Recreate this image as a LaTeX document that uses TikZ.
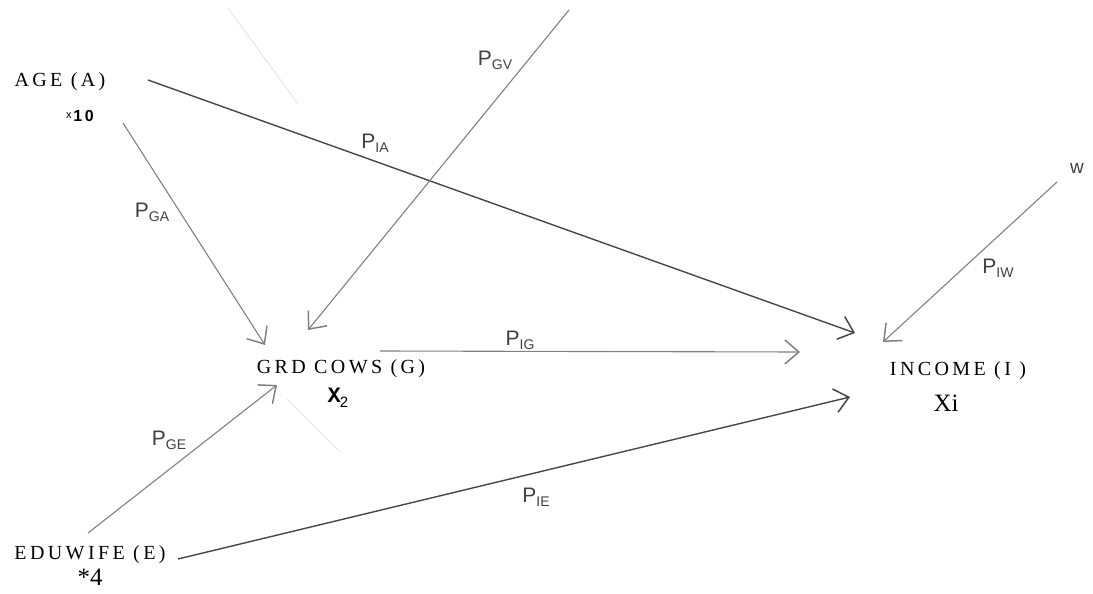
\documentclass[tikz,border=0pt]{standalone}
\usepackage{fontspec}
\setmainfont{Liberation Serif}
\newfontfamily\capsfont[LetterSpace=17]{Liberation Serif}
\newfontfamily\pfont{Liberation Sans}
\newfontfamily\xfont{Liberation Mono}
\usetikzlibrary{arrows.meta}

% path coefficient P with a lowered subscript
\newcommand{\pco}[1]{{\pfont\fontsize{21}{24}\selectfont P\raisebox{-0.35ex}{\fontsize{14}{14}\selectfont #1}}}

\begin{document}
\begin{tikzpicture}[x=1pt, y=-1pt,
    vname/.style={font=\capsfont\fontsize{20}{22}\selectfont, inner sep=0pt},
    vnum/.style={font=\fontsize{25}{28}\selectfont, inner sep=0pt},
    coef/.style={text=black!75, inner sep=0pt},
    link/.style={draw=black!50, line width=1.1pt,
      -{Straight Barb[length=14pt,width=24pt,line width=1.5pt]}},
    darklink/.style={link, draw=black!72, line width=1.4pt},
    ghost/.style={draw=black!10, line width=1pt}]
  \useasboundingbox (0,0) rectangle (1093,594);

  % faint traces on the sheet
  \draw[ghost] (228,8) -- (298,104);
  \draw[ghost] (287,399) -- (340,452);

  % Variables
  \node[vname] (age) at (60,82) {AGE (A)};
  \node[inner sep=0pt] (ageX) at (80,116) {\pfont\raisebox{0.6ex}{\fontsize{11}{12}\selectfont x}\,\fontsize{16}{18}\selectfont\bfseries 1\,0};
  \node[vname] (grd) at (341,369) {GRD COWS (G)};
  \node[inner sep=0pt] (grdX) at (338,398) {\xfont\bfseries\fontsize{22}{24}\selectfont X\hspace{-1pt}\raisebox{-0.45ex}{\pfont\mdseries\fontsize{15}{16}\selectfont 2}};
  \node[vname] (inc) at (958,371) {INCOME (I )};
  \node[vnum] (incX) at (946,403) {Xi};
  \node[vname] (edu) at (90,555) {EDUWIFE (E)};
  \node[vnum] (eduX) at (90,577) {*4};
  \node[inner sep=0pt, text=black!75] (w) at (1077,168) {\pfont\fontsize{19}{20}\selectfont w};

  % End points of the paths
  \coordinate (ageS) at (148,80);
  \coordinate (ageXS) at (123,123);
  \coordinate (vS) at (569,10);
  \coordinate (wS) at (1057,182);
  \coordinate (grdS) at (380,351);
  \coordinate (eduS) at (88,533);
  \coordinate (eduXS) at (178,559);
  \coordinate (grdA) at (265,345);
  \coordinate (grdV) at (308,330);
  \coordinate (grdE) at (277,385);
  \coordinate (incA) at (855,333);
  \coordinate (incW) at (883,342);
  \coordinate (incG) at (800,352);
  \coordinate (incE) at (850,397);

  % Paths
  \draw[darklink] (ageS) -- (incA);
  \draw[link] (ageXS) -- (grdA);
  \draw[link] (vS) -- (grdV);
  \draw[link] (wS) -- (incW);
  \draw[link] (grdS) -- (incG);
  \draw[link] (eduS) -- (grdE);
  \draw[darklink] (eduXS) -- (incE);

  % Coefficients
  \node[coef] (pia) at (375,143) {\pco{IA}};
  \node[coef] (pga) at (152,212) {\pco{GA}};
  \node[coef] (pgv) at (495,60) {\pco{GV}};
  \node[coef] (piw) at (998,268) {\pco{IW}};
  \node[coef] (pig) at (520,340) {\pco{IG}};
  \node[coef] (pge) at (169,440) {\pco{GE}};
  \node[coef] (pie) at (536,497) {\pco{IE}};
\end{tikzpicture}
\end{document}
